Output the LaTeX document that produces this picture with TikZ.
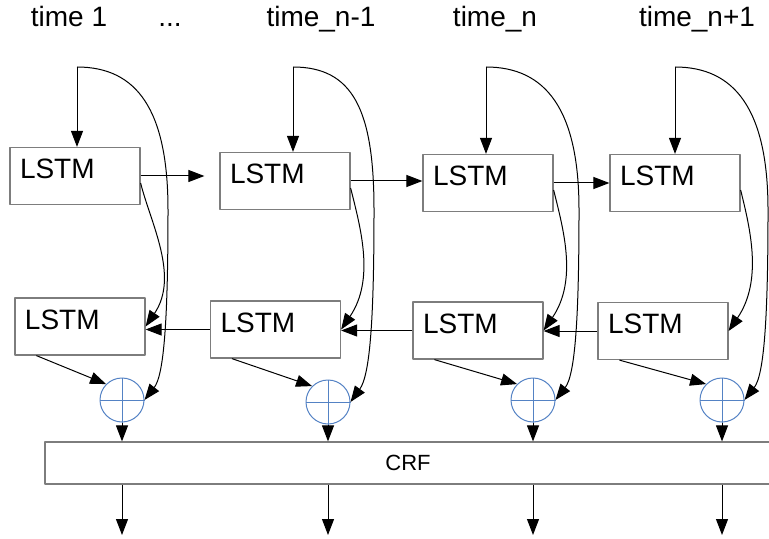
\documentclass[tikz,border=0pt]{standalone}
\usepackage{fontspec}
\setmainfont{Liberation Sans}
\usetikzlibrary{arrows.meta,calc}
\definecolor{boxgray}{RGB}{125,125,125}
\definecolor{plusblue}{RGB}{84,130,196}
\begin{document}
\begin{tikzpicture}[x=.5pt,y=-.5pt,line join=round,line width=.5pt,
  >={Triangle[length=8pt,width=6pt]},
  lstm/.style={draw=boxgray,line width=.6pt,text width=55pt,text height=10.5pt,text depth=8pt,inner sep=5pt,align=left,font=\fontsize{14}{16}\selectfont},
  plus/.style={circle,draw=plusblue,line width=.5pt,minimum size=22pt,inner sep=0pt},
  crfbox/.style={draw=boxgray,line width=.6pt,minimum width=363pt,minimum height=21pt,inner sep=0pt,font=\fontsize{11}{13}\selectfont},
  timelab/.style={anchor=base,inner sep=0pt,font=\fontsize{14}{16}\selectfont}]
  \useasboundingbox (0,0) rectangle (769,539);
  \clip (0,0) rectangle (769,539);
  \foreach \n/\x/\s in {t1/69/time 1,tn1/321/time\_n-1,tn/495/time\_n,tn2/697/time\_n+1}
    \node[timelab] (\n) at (\x,27) {\s};
  \node[timelab] (tdots) at (170,27) {...};
  \node[crfbox] (crf) at (408,463) {CRF};
  \foreach \i/\tx/\ty/\bx/\by/\px/\py/\X in {1/75/176/80/326.5/122/400/77,2/285/181/275.5/329.5/328/402/293,3/488/183/478/330.5/533/400/486,4/675/183/663/331/722/400/675}{
    \node[lstm] (tb\i) at (\tx,\ty) {LSTM};
    \node[lstm] (bb\i) at (\bx,\by) {LSTM};
    \node[plus] (plus\i) at (\px,\py) {};
    \draw[plusblue] (plus\i.north) -- (plus\i.south) (plus\i.west) -- (plus\i.east);
    \coordinate (in\i) at (\X,67);
    \coordinate (out\i) at (\px,535);
    \draw[->] (in\i) -- (in\i |- tb\i.north);
    \draw[->] (in\i) .. controls ({\X+60},67) and ({\px+46},110) .. ({\px+46},210) .. controls ({\px+46},320) and ({\px+42},375) .. (plus\i.east);
    \draw[->] ($(tb\i.east)+(0,7)$) .. controls +(10,40) and +(34,-50) .. (bb\i.east);
    \draw[->] ($(bb\i.south west)+(22,0)$) -- (plus\i.135);
    \draw[->] (plus\i.south) -- (plus\i.south |- crf.north);
    \draw[->] (plus\i |- crf.south) -- (out\i);
  }
  \foreach \i/\j/\s in {1/2/7.5pt,2/3/0pt,3/4/0pt}{
    \draw[->,shorten >=\s] (tb\i.east) -- (tb\i.east -| tb\j.west);
    \draw[->] (bb\j.west) -- (bb\j.west -| bb\i.east);
  }
\end{tikzpicture}
\end{document}
